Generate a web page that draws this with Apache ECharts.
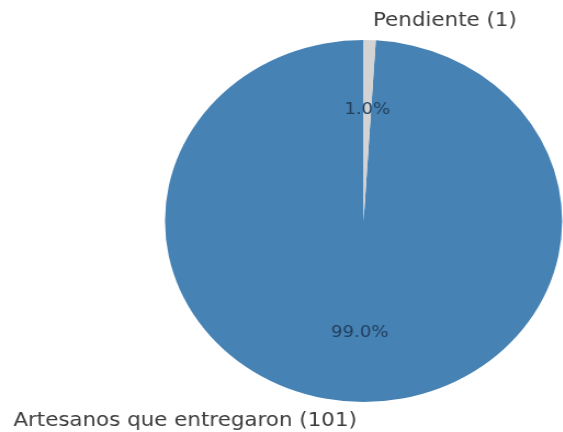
<!DOCTYPE html>
<html>
<head>
<meta charset="utf-8">
<script src="https://cdn.jsdelivr.net/npm/echarts@6/dist/echarts.min.js"></script>
<style>
  html, body { margin: 0; padding: 0; background: #ffffff; overflow: hidden; }
  #wrap { width: 563px; height: 432px; overflow: hidden; position: relative; }
  #chart { width: 513px; height: 432px; transform: scaleX(1.097); transform-origin: 0 0; }
</style>
</head>
<body>
<div id="wrap"><div id="chart"></div></div>
<script>
// Data
const categories = ['Artesanos que entregaron', 'Pendiente'];
const counts = [101, 1];
const colors = ['#4682B4', '#D3D3D3'];

const total = counts.reduce((a, b) => a + b, 0);
const labelDist = [0, 2.5];

const outerData = categories.map((c, i) => ({
  name: c,
  value: counts[i],
  itemStyle: { color: colors[i] },
  label: { distanceToLabelLine: labelDist[i] }
}));
const innerData = categories.map((c, i) => ({
  name: c,
  value: counts[i]
}));

const R = 181;
const chart = echarts.init(document.getElementById('chart'), null, { renderer: 'canvas' });
chart.setOption({
  animation: false,
  backgroundColor: '#ffffff',
  series: [
    {
      type: 'pie',
      center: [331.4, 221],
      radius: [0, R],
      startAngle: 90,
      clockwise: false,
      avoidLabelOverlap: false,
      silent: true,
      data: outerData,
      itemStyle: { borderWidth: 0 },
      label: {
        show: true,
        position: 'outside',
        formatter: p => p.name + ' (' + p.value + ')',
        fontFamily: 'DejaVu Sans',
        fontSize: 19.5,
        color: '#3d3d3d'
      },
      labelLine: { show: false, length: 19, length2: 0 }
    },
    {
      type: 'pie',
      center: [331.4, 221],
      radius: [R * 0.2, R],
      startAngle: 90,
      clockwise: false,
      avoidLabelOverlap: false,
      silent: true,
      data: innerData,
      itemStyle: { color: 'rgba(0,0,0,0)', borderWidth: 0 },
      label: {
        show: true,
        position: 'inside',
        formatter: p => (p.value / total * 100).toFixed(1) + '%',
        fontFamily: 'DejaVu Sans',
        fontSize: 16.5,
        color: '#22405f'
      },
      labelLine: { show: false }
    }
  ]
});
</script>
</body>
</html>
